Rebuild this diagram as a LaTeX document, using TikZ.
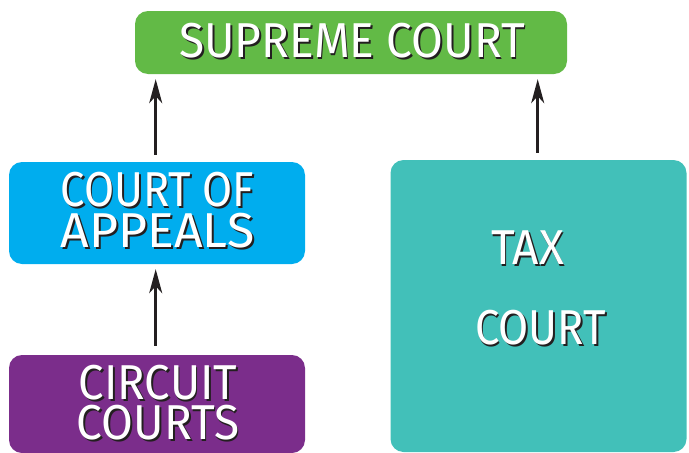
\documentclass[tikz,border=0pt]{standalone}
\usepackage{fontspec}
\setmainfont{Fira Sans}
\usetikzlibrary{arrows.meta}

\definecolor{supremegreen}{HTML}{62BA46}
\definecolor{appealsblue}{HTML}{00ADEE}
\definecolor{circuitpurple}{HTML}{7B2D8B}
\definecolor{taxteal}{HTML}{42C0B9}
\definecolor{inkdark}{HTML}{231F20}

% white lettering with a dark drop shadow
\newcommand{\shadowed}[1]{\leavevmode\rlap{\kern2pt\raisebox{-2pt}{\color{inkdark}#1}}{\color{white}#1}}

\tikzset{
  courtbox/.style={draw=none, rounded corners=13pt, inner sep=0pt},
  courtlabel/.style={anchor=base, inner sep=0pt,
    font=\fontsize{49}{49}\selectfont},
  uparrow/.style={draw=inkdark, line width=2.6pt,
    -{Stealth[length=24pt, width=13pt, inset=7pt]}},
}

\begin{document}
\begin{tikzpicture}[x=1pt, y=-1pt]
  \useasboundingbox (0,0) rectangle (689,453);

  % court boxes
  \node[courtbox, fill=supremegreen, minimum width=432pt, minimum height=63pt]
    (supreme) at (351,42.5) {};
  \node[courtbox, fill=appealsblue, minimum width=296pt, minimum height=102pt]
    (appeals) at (157,213) {};
  \node[courtbox, fill=circuitpurple, minimum width=296pt, minimum height=98pt]
    (circuit) at (157,404) {};
  \node[courtbox, fill=taxteal, minimum width=296pt, minimum height=292pt]
    (tax) at (538.5,306) {};

  % labels
  \node[courtlabel, xscale=0.94] (supremeT) at (352,57) {\shadowed{SUPREME COURT}};
  \node[courtlabel, xscale=0.89] (appealsA) at (157.5,206) {\shadowed{COURT OF}};
  \node[courtlabel, xscale=1.02] (appealsB) at (157.5,247) {\shadowed{APPEALS}};
  \node[courtlabel, xscale=0.93] (circuitA) at (158,399) {\shadowed{CIRCUIT}};
  \node[courtlabel, xscale=0.94] (circuitB) at (158,439) {\shadowed{COURTS}};
  \node[courtlabel, xscale=0.94] (taxA) at (527.5,264) {\shadowed{TAX}};
  \node[courtlabel, xscale=0.89] (taxB) at (540.5,344) {\shadowed{COURT}};

  % appeals routes
  \draw[uparrow, shorten <=7pt, shorten >=5pt]
    ([xshift=-1.3pt]appeals.north) -- ([xshift=-1.3pt]appeals.north |- supreme.south);
  \draw[uparrow, shorten <=9pt, shorten >=5pt]
    ([xshift=-1.3pt]circuit.north) -- ([xshift=-1.3pt]circuit.north |- appeals.south);
  \draw[uparrow, shorten <=7pt, shorten >=5pt]
    ([xshift=-0.8pt]tax.north) -- ([xshift=-0.8pt]tax.north |- supreme.south);
\end{tikzpicture}
\end{document}
